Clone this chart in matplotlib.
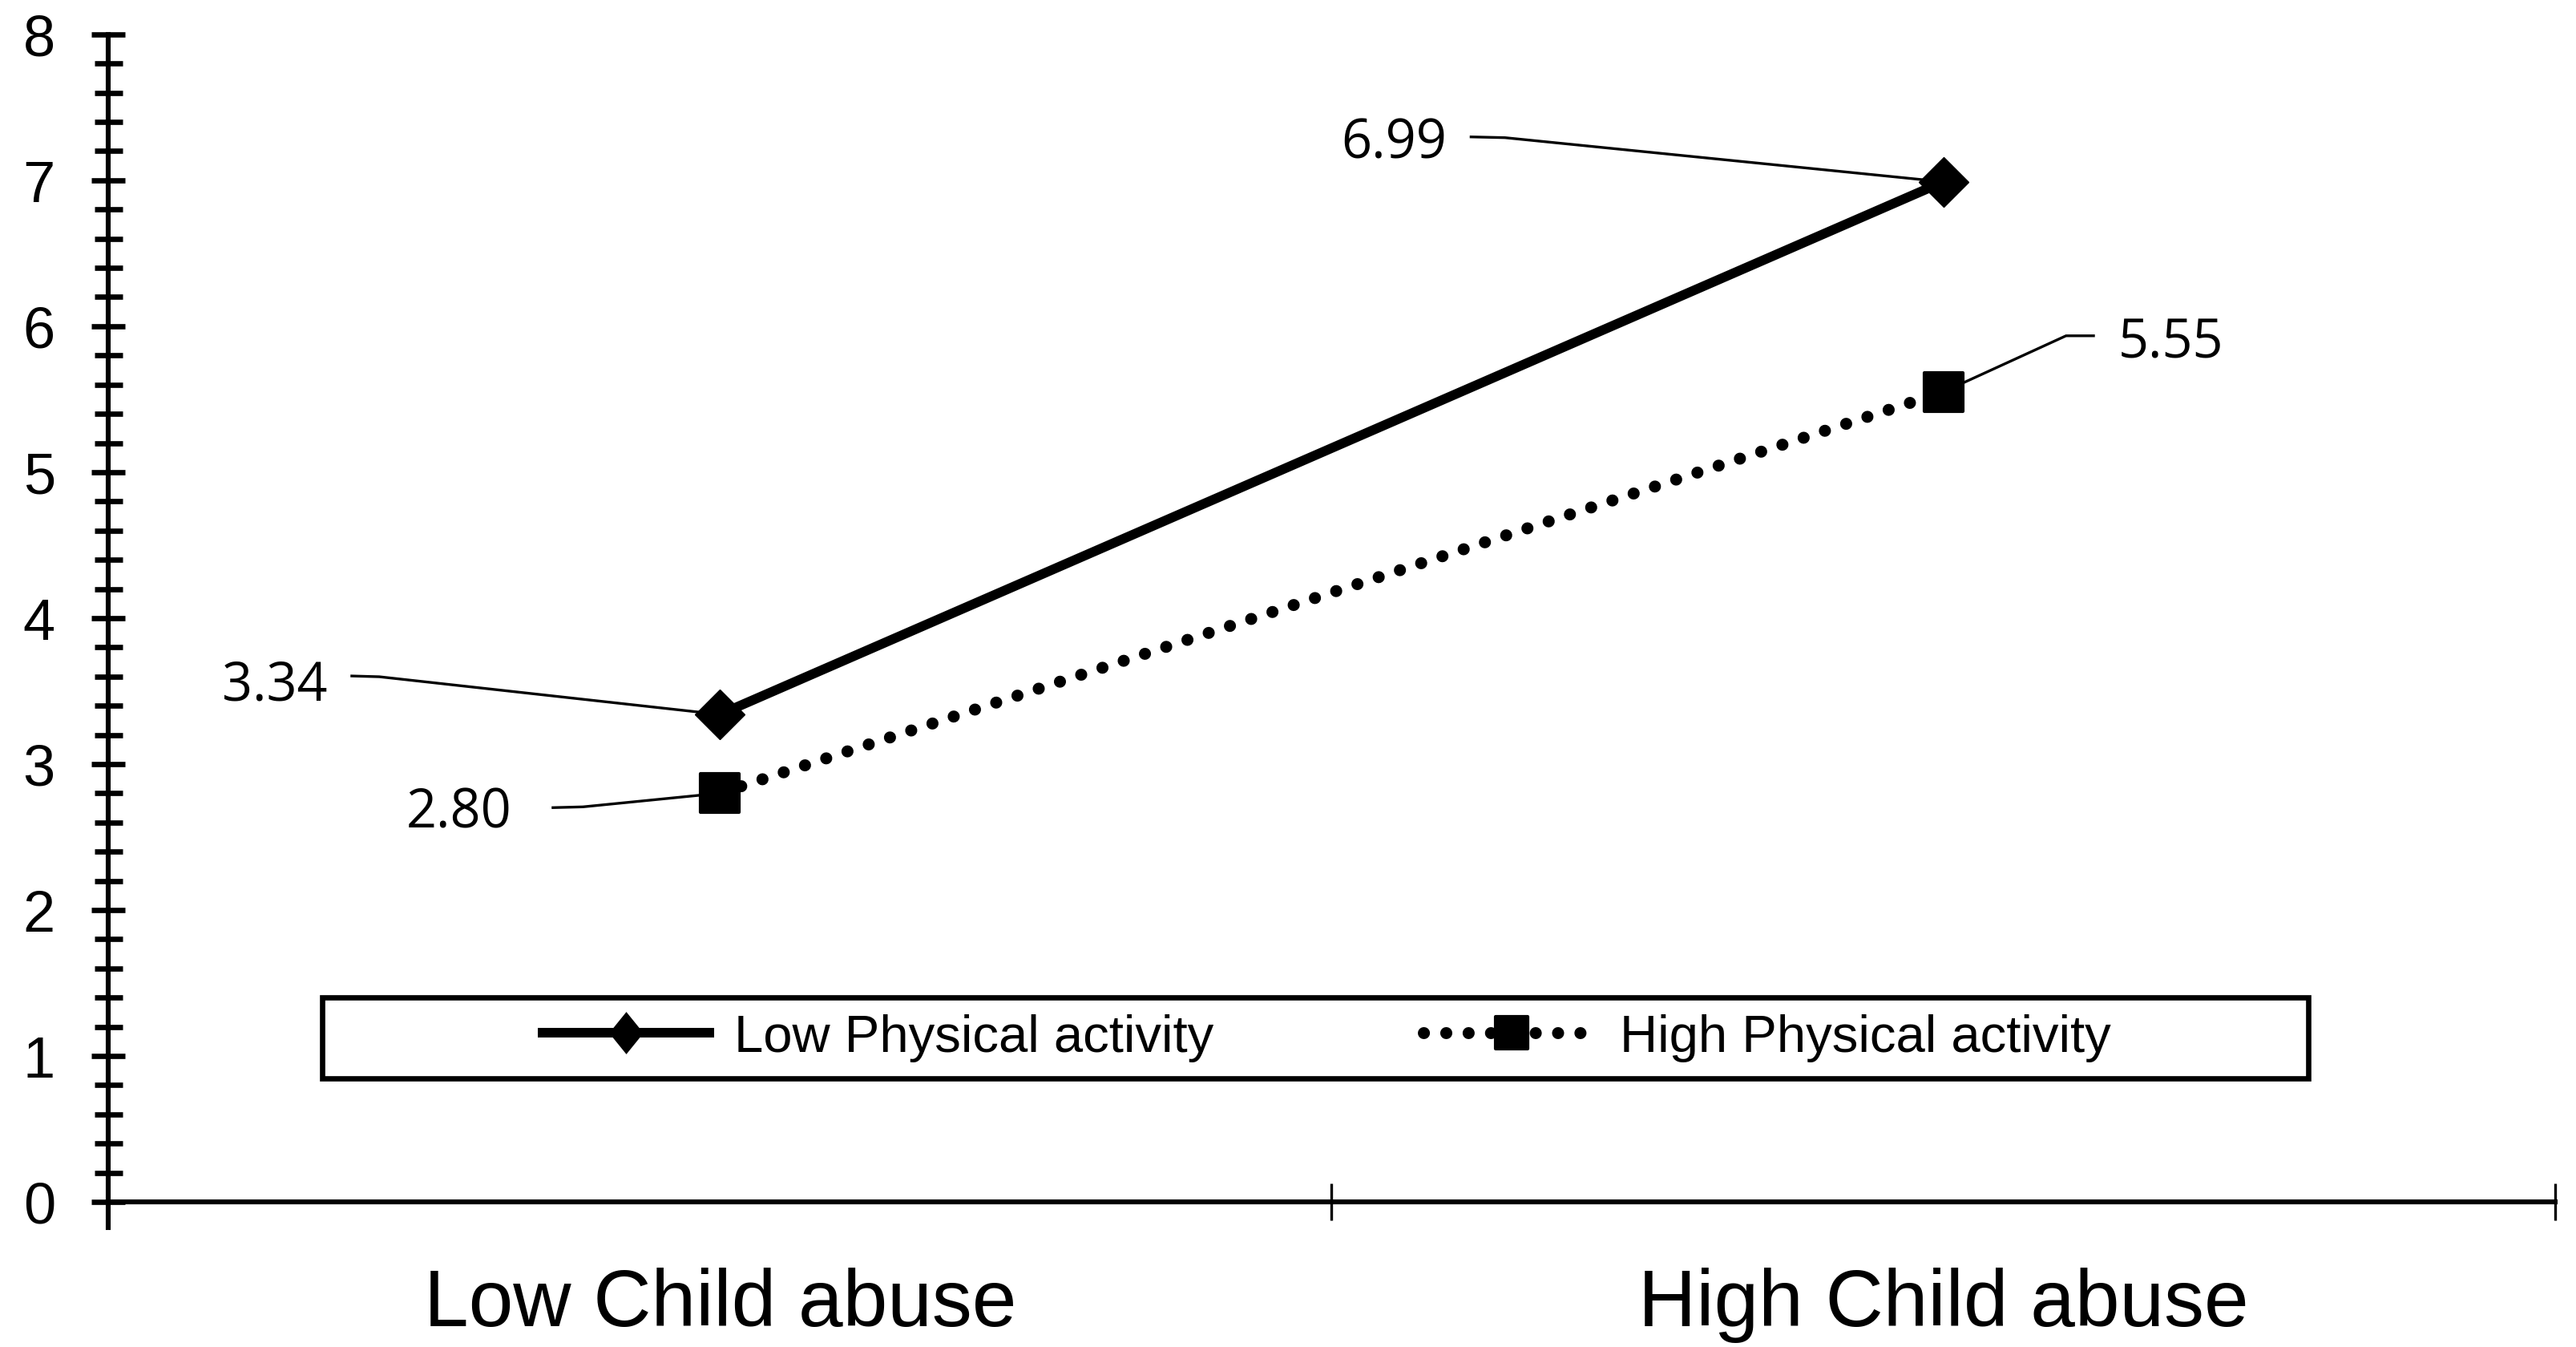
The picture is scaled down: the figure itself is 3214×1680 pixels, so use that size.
import matplotlib
matplotlib.use("Agg")
import matplotlib.pyplot as plt
from matplotlib.lines import Line2D
from matplotlib.markers import MarkerStyle
from matplotlib.path import Path
from matplotlib.patches import Rectangle
from matplotlib.ticker import MultipleLocator
import numpy as np

# data
categories = ["Low Child abuse", "High Child abuse"]
series_names = ["Low Physical activity", "High Physical activity"]
low_pa = [3.34, 6.99]
high_pa = [2.80, 5.55]
cat_pos = [0.5, 1.5]

DPI = 200
plt.rcParams['font.family'] = ['Liberation Sans', 'DejaVu Sans']

fig = plt.figure(figsize=(16.07, 8.405), dpi=DPI)
ax = fig.add_axes([0.042, 0.1077, 0.9499, 0.8662])
ax.set_xlim(0, 2)
ax.set_ylim(0, 8)

dotted = (0, (0.01, 1.85))
diamond = MarkerStyle('D', joinstyle='miter')
square = MarkerStyle('s', joinstyle='round')

ax.plot(cat_pos, low_pa, color='black', lw=4.3, marker=diamond, ms=16,
        mew=0.5, zorder=4, solid_capstyle='butt')
ax.plot(cat_pos, high_pa, color='black', lw=5.4, linestyle=dotted,
        dash_capstyle='round', marker=square, ms=17, mew=1.5, zorder=4)

# data labels with leader lines, offsets in pixels from the point (y up)
label_style = {
    (0, 0): dict(text=(-490, 19), ha='right', lead=[(-461, 48), (-425, 47), (0, 0)]),
    (0, 1): dict(text=(-620, 30), ha='right', lead=[(-591, 56), (-547, 55), (0, 0)]),
    (1, 0): dict(text=(-260, -42), ha='right', lead=[(-210, -18), (-171, -17), (0, 0)]),
    (1, 1): dict(text=(218, 43), ha='left', lead=[(0, 0), (153, 70), (189, 70)]),
}
inv = ax.transData.inverted()
for si, vals in enumerate([low_pa, high_pa]):
    for i, v in enumerate(vals):
        st = label_style[(si, i)]
        p = ax.transData.transform((cat_pos[i], v))
        lead = inv.transform(p + np.array(st['lead']))
        ax.plot(lead[:, 0], lead[:, 1], color='black', lw=1.2, zorder=2,
                solid_capstyle='butt', clip_on=False)
        tx, ty = inv.transform(p + np.array(st['text']))
        ax.text(tx, ty, f"{v:.2f}", ha=st['ha'], va='baseline', fontsize=24,
                family=['Open Sans', 'DejaVu Sans'])

# legend
thin_diamond = Path([(0, 1), (0.81, 0), (0, -1), (-0.81, 0), (0, 1)], closed=True)
h1 = Line2D([], [], color='black', lw=4.3, marker=thin_diamond, ms=19, mew=0,
            solid_capstyle='butt')
h2 = Line2D([], [], color='black', lw=5.4, linestyle=dotted, dash_capstyle='round',
            marker=MarkerStyle('s', joinstyle='round'), ms=14.5, mew=1.5)
ax.add_patch(Rectangle((0.0875, 0.1058), 0.8115, 0.0694, transform=ax.transAxes,
                       facecolor='white', edgecolor='black', lw=2.4, zorder=5))
leg = ax.legend([h1, h2], series_names, loc='center', bbox_to_anchor=(0.497, 0.1408),
                ncol=2, frameon=False, fontsize=23.5, handlelength=3.38,
                handletextpad=0.38, columnspacing=4.0, numpoints=1, borderpad=0)
leg.set_zorder(6)

# axes
ax.set_xticks([0, 1, 2])
ax.set_xticklabels([])
ax.set_xticks(cat_pos, minor=True)
ax.set_xticklabels(categories, minor=True, fontsize=36)
ax.tick_params(axis='x', which='major', direction='inout', length=16.5, width=1.2)
ax.tick_params(axis='x', which='minor', length=0, pad=29)
ax.set_yticks(range(9))
ax.yaxis.set_minor_locator(MultipleLocator(0.2))
ax.tick_params(axis='y', which='major', direction='inout', length=14.8, width=2.4,
               labelsize=26, pad=16.4)
ax.tick_params(axis='y', which='minor', direction='inout', length=12.6, width=2.4)

for s in ['top', 'right']:
    ax.spines[s].set_visible(False)
ax.spines['left'].set_linewidth(2.2)
ax.spines['bottom'].set_linewidth(2.2)
ax.spines['left'].set_bounds(-0.176, 8)

fig.savefig('out.png', dpi=DPI)
